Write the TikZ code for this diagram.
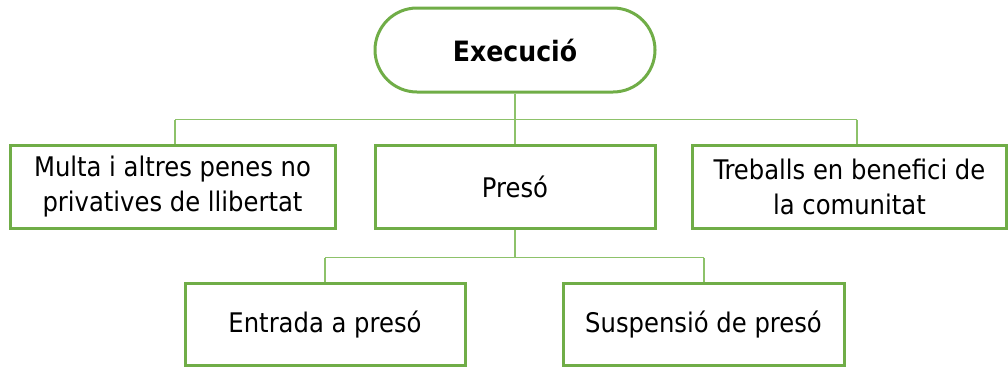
\documentclass[tikz,border=0pt]{standalone}
\usepackage{fontspec}
\setmainfont{DejaVu Sans Condensed}
\definecolor{boxgreen}{HTML}{70AD47}
\definecolor{linegreen}{HTML}{8DC26A}
\tikzset{
  x=1pt,y=-1pt,
  box/.style={draw=boxgreen,line width=3pt,fill=white,inner sep=0pt,align=center,
    font=\fontsize{27}{35}\selectfont},
  pill/.style={draw=boxgreen,line width=3pt,fill=white,rounded corners=42pt,inner sep=0pt,
    font=\fontsize{28}{30}\selectfont\bfseries},
  conn/.style={draw=linegreen,line width=1.8pt}
}
\begin{document}
\begin{tikzpicture}
\useasboundingbox (0,0) rectangle (1008,367);
% nodes
\node[pill,minimum width=280pt,minimum height=84pt] (exec) at (515,50) {Execució};
\node[box,minimum width=325pt,minimum height=83pt] (multa) at (172.5,186.5) {Multa i altres penes no\\privatives de llibertat};
\node[box,minimum width=280pt,minimum height=83pt] (preso) at (515,186.5) {Presó};
\node[box,minimum width=314pt,minimum height=83pt] (treb) at (849.5,186.5) {Treballs en benefici de\\la comunitat};
\node[box,minimum width=280pt,minimum height=82pt] (entr) at (325,324.5) {Entrada a presó};
\node[box,minimum width=281pt,minimum height=82pt] (susp) at (703.5,324.5) {Suspensió de presó};
% connectors
\coordinate (h1) at (515,119.5);
\coordinate (h2) at (515,257.5);
\coordinate (hl) at (175,119.5);
\coordinate (hr) at (857,119.5);
\coordinate (bl) at (325,257.5);
\coordinate (br) at (704,257.5);
\draw[conn] (exec.south) -- (h1);
\draw[conn] (hl) -- (hr);
\draw[conn] (hl) -- (hl |- multa.north);
\draw[conn] (h1) -- (preso.north);
\draw[conn] (hr) -- (hr |- treb.north);
\draw[conn] (preso.south) -- (h2);
\draw[conn] (bl) -- (br);
\draw[conn] (bl) -- (entr.north);
\draw[conn] (br) -- (br |- susp.north);
\end{tikzpicture}
\end{document}
